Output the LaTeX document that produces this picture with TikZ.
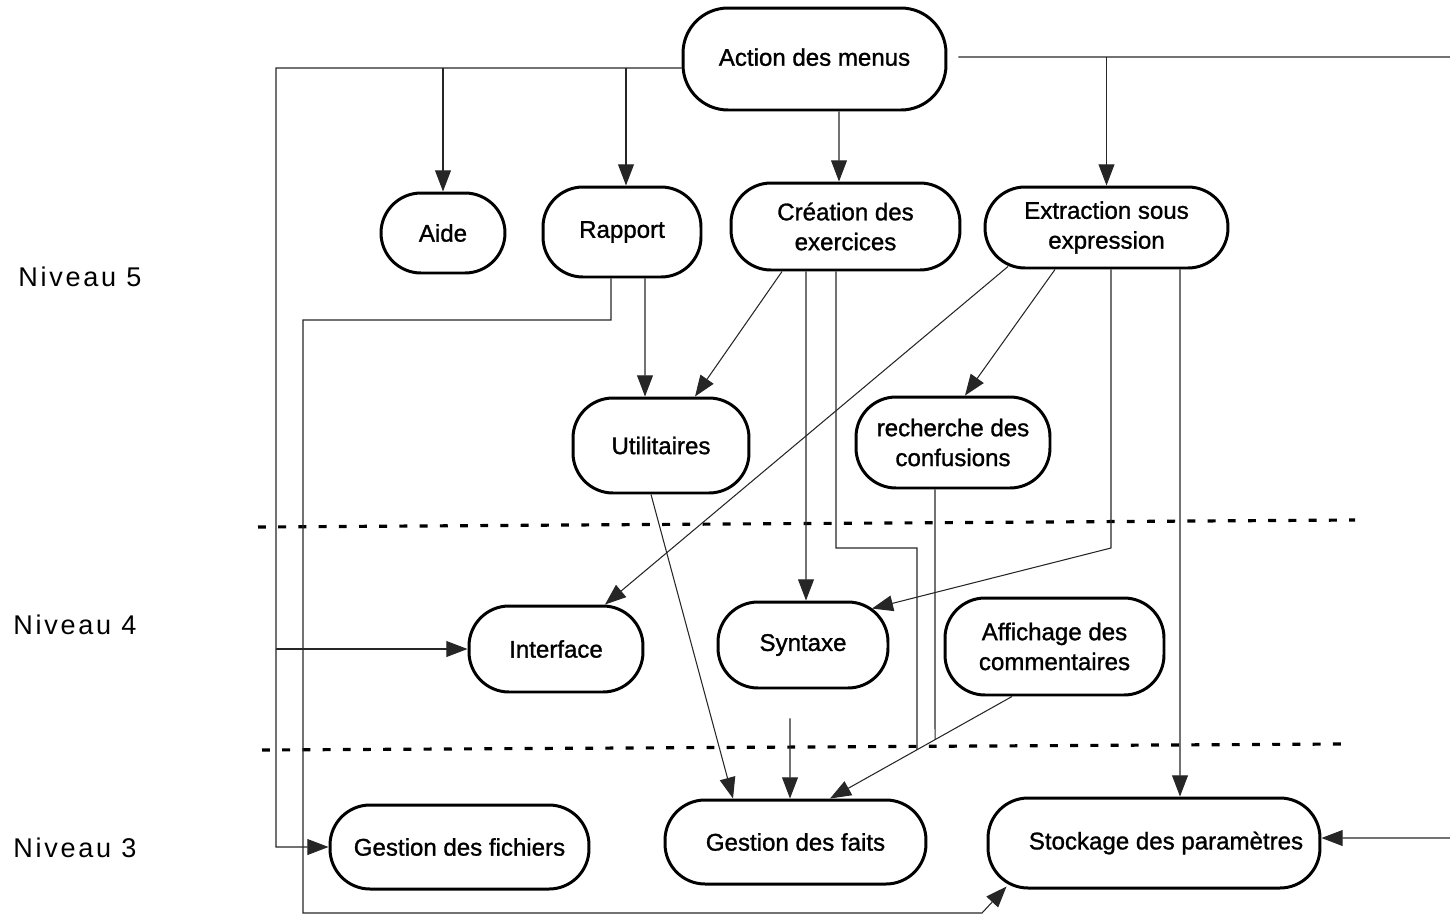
\documentclass[tikz,border=0pt]{standalone}
\usepackage{fontspec}
\setmainfont{Liberation Sans}
\usetikzlibrary{arrows.meta,calc}

\begin{document}
\begin{tikzpicture}[x=0.02cm,y=-0.02cm,
  proc/.style={draw=black, line width=1.7pt, rounded corners=0.8cm, inner sep=0pt,
    align=center, font=\fontsize{13.7pt}{17pt}\selectfont\addfontfeature{FakeBold=1.2}},
  link/.style={draw=black!85, line width=0.6pt},
  arr/.style={link, -{Triangle[length=12pt,width=9pt]}},
  levelsep/.style={line width=1.8pt, dash pattern=on 4.5pt off 7pt},
  level/.style={anchor=west, inner sep=0pt,
    font=\fontsize{15.4pt}{18pt}\selectfont\addfontfeature{LetterSpace=10}}]

\useasboundingbox (0,0) rectangle (1450,917);

% modules
\node[proc, minimum width=5.26cm, minimum height=2.04cm, rounded corners=0.9cm] (menus) at (814.5,59) {\raisebox{0.08cm}{Action des menus}};
\node[proc, minimum width=2.48cm, minimum height=1.6cm] (aide) at (443,233) {Aide};
\node[proc, minimum width=3.16cm, minimum height=1.8cm] (rapport) at (622,232) {Rapport};
\node[proc, minimum width=4.58cm, minimum height=1.74cm] (creation) at (845.5,226.5) {Création des\\exercices};
\node[proc, minimum width=4.86cm, minimum height=1.62cm] (extraction) at (1106.5,227.5) {Extraction sous\\expression};
\node[proc, minimum width=3.52cm, minimum height=1.9cm] (util) at (661,445.5) {Utilitaires};
\node[proc, minimum width=3.88cm, minimum height=1.82cm] (recherche) at (953,442.5) {recherche des\\confusions};
\node[proc, minimum width=3.48cm, minimum height=1.72cm] (interface) at (556,649) {Interface};
\node[proc, minimum width=3.4cm, minimum height=1.72cm] (syntaxe) at (803,645) {Syntaxe};
\node[proc, minimum width=4.38cm, minimum height=1.94cm] (affichage) at (1054.5,646.5) {Affichage des\\commentaires};
\node[proc, minimum width=5.18cm, minimum height=1.68cm] (fichiers) at (459.5,847) {Gestion des fichiers};
\node[proc, minimum width=5.22cm, minimum height=1.68cm] (faits) at (795.5,842) {Gestion des faits};
\node[proc, minimum width=6.64cm, minimum height=1.8cm] (stockage) at (1154,843) {\hspace*{0.48cm}Stockage des paramètres};

% level labels
\node[level] (n5) at (18,277) {Niveau 5};
\node[level] (n4) at (13,625) {Niveau 4};
\node[level] (n3) at (13,848) {Niveau 3};

% level separators
\draw[levelsep] (258,527) -- (1355,520);
\draw[levelsep] (262,750) -- (1342,744);

% left bus from the menu actions
\coordinate (lb) at (276,68);
\draw[arr] ([yshift=-0.18cm]menus.west) -- (lb) -- (lb |- fichiers.west) -- (fichiers.west);
\draw[arr] (lb -| aide.north) -- (aide.north);
\coordinate (rpx) at ([xshift=0.08cm]rapport.north);
\draw[arr] (lb -| rpx) -- (rpx);
\draw[arr] (lb |- interface.west) -- (interface.west);
\draw[arr] ([xshift=0.49cm]menus.south) -- ([xshift=-0.13cm]creation.north);

% right bus from the menu actions
\coordinate (rb) at (1460,57);
\draw[arr] ([xshift=0.22cm,yshift=0.04cm]menus.east) -- (rb) |- ([yshift=0.1cm]stockage.east);
\draw[arr] (rb -| extraction.north) -- (extraction.north);

% Rapport
\coordinate (r1) at (303,320);
\coordinate (r2) at (303,913);
\coordinate (r3) at (982,913);
\draw[arr] ([xshift=-0.22cm]rapport.south) |- (r1) -- (r2) -- (r3) -- ([xshift=0.4cm,yshift=0.06cm]stockage.south west);
\draw[arr] ([xshift=0.46cm]rapport.south) -- ([xshift=-0.32cm]util.north);

% Creation des exercices
\draw[arr] ([xshift=-1.27cm]creation.south) -- ([xshift=0.68cm]util.north);
\draw[arr] ([xshift=-0.79cm]creation.south) -- ([xshift=0.06cm]syntaxe.north);

% Affichage -> Gestion des faits, joined by two other links
\coordinate (affA) at ([xshift=-0.85cm]affichage.south);
\coordinate (faitsB) at ([xshift=0.69cm]faits.north);
\draw[arr] (affA) -- (faitsB);
\coordinate (c1) at (917,548);
\draw[link] ([xshift=-0.19cm]creation.south) |- (c1) -- ($(affA)!0.522!(faitsB)$);
\draw[link] ([xshift=-0.36cm]recherche.south) -- ($(affA)!0.423!(faitsB)$);

% Extraction sous expression
\draw[arr] ([xshift=-1.97cm,yshift=0.06cm]extraction.south) -- ([xshift=0.98cm]interface.north);
\draw[arr] ([xshift=-1.03cm]extraction.south) -- ([xshift=0.24cm]recherche.north);
\coordinate (e1) at (1111,548);
\draw[arr] ([xshift=0.09cm]extraction.south) -- (e1) -- ([xshift=1.38cm,yshift=-0.16cm]syntaxe.north);
\draw[arr] ([xshift=1.47cm]extraction.south) -- ([xshift=0.52cm]stockage.north);

% Utilitaires and Syntaxe -> Gestion des faits
\draw[arr] ([xshift=-0.2cm]util.south) -- ([xshift=-1.25cm]faits.north);
\draw[arr] ([xshift=-0.26cm,yshift=-0.58cm]syntaxe.south) -- ([xshift=-0.11cm]faits.north);

\end{tikzpicture}
\end{document}
